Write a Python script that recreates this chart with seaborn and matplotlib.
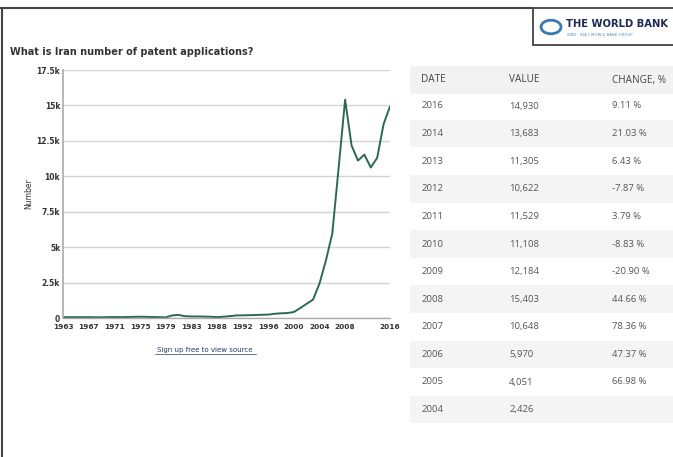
import numpy as np
import matplotlib
matplotlib.use('Agg')
import matplotlib.pyplot as plt
import seaborn as sns
from matplotlib.patches import Rectangle, Circle

# years shown on the chart (1986 and 2015 have no data point)
years = [1963, 1964, 1965, 1966, 1967, 1968, 1969, 1970, 1971, 1972, 1973, 1974,
         1975, 1976, 1977, 1978, 1979, 1980, 1981, 1982, 1983, 1984, 1985, 1987,
         1988, 1989, 1990, 1991, 1992, 1993, 1994, 1995, 1996, 1997, 1998, 1999,
         2000, 2001, 2002, 2003, 2004, 2005, 2006, 2007, 2008, 2009, 2010, 2011,
         2012, 2013, 2014, 2016]
patents = [60, 60, 60, 60, 60, 50, 50, 60, 70, 60, 70, 80,
           90, 80, 70, 60, 40, 180, 220, 130, 110, 110, 100, 90,
           60, 90, 130, 180, 190, 200, 210, 230, 240, 300, 330, 350,
           420, 700, 1000, 1300, 2426, 4051, 5970, 10648, 15403, 12184, 11108, 11529,
           10622, 11305, 13683, 14930]
tick_years = [1963, 1967, 1971, 1975, 1979, 1983, 1988, 1992, 1996, 2000, 2004, 2008, 2016]

# table on the right
tbl_dates = ['2016', '2014', '2013', '2012', '2011', '2010', '2009', '2008', '2007', '2006', '2005', '2004']
tbl_values = ['14,930', '13,683', '11,305', '10,622', '11,529', '11,108', '12,184', '15,403',
              '10,648', '5,970', '4,051', '2,426']
tbl_change = ['9.11 %', '21.03 %', '6.43 %', '-7.87 %', '3.79 %', '-8.83 %', '-20.90 %',
              '44.66 %', '78.36 %', '47.37 %', '66.98 %', '']

sns.set_theme(style='white')
plt.rcParams['font.family'] = ['DejaVu Sans']

W, H = 673, 457
fig = plt.figure(figsize=(W / 100, H / 100), dpi=100)
fig.patch.set_facecolor('white')

ax = fig.add_axes([63 / W, 1 - 318 / H, (390 - 63) / W, (318 - 70) / H])
idx = np.arange(len(years))
sns.lineplot(x=idx, y=patents, ax=ax, color='#2c6a50', linewidth=1.4)

ax.set_xlim(0, len(years) - 1)
ax.set_ylim(0, 17500)
ax.set_yticks(np.arange(0, 17501, 2500))
ax.set_yticklabels(['0', '2.5k', '5k', '7.5k', '10k', '12.5k', '15k', '17.5k'],
                   fontsize=5.5, fontweight='bold', color='#333333')
ax.set_xticks([years.index(y) for y in tick_years])
ax.set_xticklabels([str(y) for y in tick_years], fontsize=5.3, fontweight='bold', color='#333333')
ax.set_xticks(idx, minor=True)
ax.tick_params(axis='x', which='major', length=3, width=0.6, color='#888888', pad=1, direction='out')
ax.tick_params(axis='x', which='minor', length=2, width=0.5, color='#888888', direction='out')
ax.tick_params(axis='y', length=0, pad=2)
ax.yaxis.grid(True, color='#d4d4d4', linewidth=1)
ax.xaxis.grid(False)
for s in ['top', 'right']:
    ax.spines[s].set_visible(False)
ax.spines['left'].set_color('#aaaaaa')
ax.spines['left'].set_linewidth(1.2)
ax.spines['bottom'].set_color('#aaaaaa')
ax.spines['bottom'].set_linewidth(1)
ax.set_ylabel('Number', fontsize=5.5, color='#333333', labelpad=2)
ax.set_xlabel('')

fig.text(10 / W, 1 - 52 / H, 'What is Iran number of patent applications?', fontsize=7,
         fontweight='bold', color='#333333', va='center', ha='left')
fig.text(205 / W, 1 - 350 / H, 'Sign up free to view source', fontsize=5, color='#2b3a66',
         va='center', ha='center')
fig.add_artist(plt.Line2D([155 / W, 256 / W], [1 - 354 / H, 1 - 354 / H], color='#2b3a66', linewidth=0.5))

# frame
fig.add_artist(plt.Line2D([0, 533 / W], [1 - 8 / H, 1 - 8 / H], color='#444444', linewidth=1.5))
fig.add_artist(plt.Line2D([2 / W, 2 / W], [0, 1 - 8 / H], color='#444444', linewidth=1.5))

# logo box
fig.add_artist(Rectangle((533 / W, 1 - 45 / H), 145 / W, 37 / H, transform=fig.transFigure,
                         facecolor='white', edgecolor='#333333', linewidth=1.2))
fig.add_artist(Circle((551 / W, 1 - 27 / H), 10 / W, transform=fig.transFigure,
                      facecolor='none', edgecolor='#3a78b0', linewidth=2))
fig.text(566 / W, 1 - 24 / H, 'THE WORLD BANK', fontsize=7.2, fontweight='bold', color='#1e2b55',
         va='center', ha='left')
fig.text(567 / W, 1 - 35 / H, 'IBRD · IDA | WORLD BANK GROUP', fontsize=2.8, color='#5a8cc0',
         va='center', ha='left')

# table
row_h = 27.6
header_y = 80
fig.add_artist(Rectangle((410 / W, 1 - (header_y + row_h / 2) / H), 263 / W, row_h / H,
                         transform=fig.transFigure, facecolor='#f2f2f2', edgecolor='none'))
for label, x in zip(['DATE', 'VALUE', 'CHANGE, %'], [421, 509, 612]):
    fig.text(x / W, 1 - header_y / H, label, fontsize=7.2, color='#444444', va='center', ha='left',
             family=['Open Sans', 'DejaVu Sans'])
for i, (d, v, c) in enumerate(zip(tbl_dates, tbl_values, tbl_change)):
    yc = 106 + i * row_h
    if i % 2 == 1:
        fig.add_artist(Rectangle((410 / W, 1 - (yc + row_h / 2) / H), 263 / W, row_h / H,
                                 transform=fig.transFigure, facecolor='#f4f4f4', edgecolor='none'))
    for txt, x in zip([d, v, c], [421, 509, 612]):
        fig.text(x / W, 1 - yc / H, txt, fontsize=6.8, color='#555555', va='center', ha='left',
                 family=['Open Sans', 'DejaVu Sans'])

fig.savefig('out.png', dpi=100)
